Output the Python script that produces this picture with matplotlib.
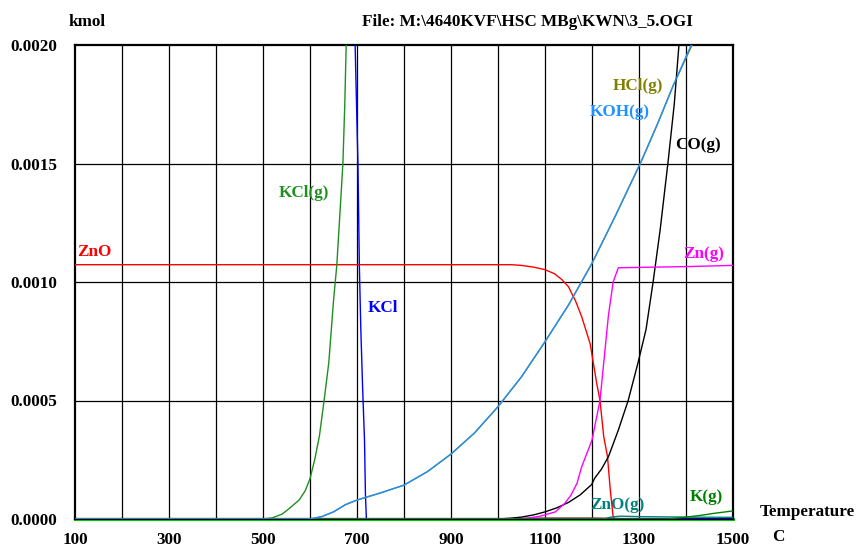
import matplotlib
matplotlib.use("Agg")
import matplotlib.pyplot as plt

plt.rcParams['font.family'] = ['Liberation Serif', 'DejaVu Serif']
plt.rcParams['font.weight'] = 'bold'

# ---- data (temperature in C, amount in kmol) ----
zno_T = [100, 1029, 1050, 1075, 1100, 1120, 1136, 1150, 1165, 1178, 1196, 1210, 1217, 1225, 1233, 1239, 1245, 1248]
zno_y = [0.001073, 0.001073, 0.00107, 0.001063, 0.001052, 0.001035, 0.00101, 0.00098, 0.00092, 0.000854, 0.00074, 0.000573, 0.0005, 0.000347, 0.000263, 0.00012, 0.00001, 0.0]

kclg_T = [100, 500, 520, 540, 552, 565, 577, 590, 600, 610, 620, 630, 640, 645, 650, 657, 664, 670, 674, 677]
kclg_y = [0.0, 0.0, 0.000005, 0.00002, 0.000038, 0.00006, 0.00008, 0.00012, 0.00017, 0.00025, 0.00035, 0.0005, 0.00066, 0.00079, 0.00092, 0.00107, 0.0013, 0.0015, 0.00175, 0.002]

kcl_T = [696, 699, 702, 705, 708, 712, 716, 718, 720, 1500]
kcl_y = [0.002, 0.00175, 0.0015, 0.00107, 0.00081, 0.00055, 0.00033, 0.0001, 0.0, 0.0]

koh_T = [100, 600, 625, 650, 675, 700, 750, 800, 850, 900, 950, 1000, 1050, 1100, 1150, 1200, 1250, 1305, 1340, 1373, 1411]
koh_y = [0.0, 0.0, 0.00001, 0.00003, 0.00006, 0.00008, 0.00011, 0.000143, 0.0002, 0.000274, 0.000363, 0.000474, 0.0006, 0.000748, 0.000903, 0.001079, 0.00128, 0.00151, 0.00167, 0.00183, 0.002]

hcl_T = [100, 600, 625, 650, 675, 700, 750, 800, 850, 900, 950, 1000, 1050, 1100, 1150, 1200, 1250, 1305, 1340, 1373, 1413]
hcl_y = [0.0, 0.0, 0.00001, 0.00003, 0.00006, 0.00008, 0.00011, 0.000143, 0.0002, 0.000274, 0.000363, 0.000474, 0.0006, 0.000748, 0.000903, 0.001079, 0.00128, 0.00151, 0.00167, 0.00183, 0.002]

co_T = [100, 1000, 1025, 1050, 1075, 1100, 1125, 1150, 1175, 1199, 1206, 1220, 1235, 1256, 1277, 1298, 1315, 1330, 1345, 1362, 1375, 1385]
co_y = [0.0, 0.0, 0.000003, 0.000008, 0.000017, 0.00003, 0.000047, 0.00007, 0.000102, 0.000145, 0.000173, 0.00021, 0.000263, 0.000375, 0.0005, 0.00066, 0.0008, 0.001, 0.00122, 0.00151, 0.00175, 0.002]

zng_T = [100, 1040, 1065, 1090, 1122, 1142, 1155, 1168, 1178, 1200, 1217, 1226, 1235, 1245, 1256, 1400, 1500]
zng_y = [0.0, 0.0, 0.000004, 0.000012, 0.00003, 0.000066, 0.0001, 0.00015, 0.00022, 0.000333, 0.0005, 0.00068, 0.00086, 0.001, 0.00106, 0.001065, 0.00107]

znog_T = [100, 1225, 1240, 1260, 1300, 1400, 1500]
znog_y = [0.0, 0.0, 0.000008, 0.000012, 0.00001, 0.000008, 0.000007]

kg_T = [100, 1360, 1400, 1430, 1460, 1500]
kg_y = [0.0, 0.0, 0.000008, 0.000015, 0.000024, 0.000034]

minor_T = [100, 1000, 1100, 1200, 1250, 1300]
minor_y = [0.0, 0.0, 0.000004, 0.000004, 0.000002, 0.0]

base_T = [100, 1500]
base_y = [0.0, 0.0]

x_ticks = [100, 300, 500, 700, 900, 1100, 1300, 1500]
y_ticks = [0.0, 0.0005, 0.0010, 0.0015, 0.0020]
y_labels = ["0.0000", "0.0005", "0.0010", "0.0015", "0.0020"]

fig = plt.figure(figsize=(8.6, 5.5), dpi=100)
ax = fig.add_axes([75/860, 31/550, 658/860, 474/550])

ax.set_xlim(100, 1500)
ax.set_ylim(0, 0.002)

for xv in range(200, 1500, 100):
    ax.axvline(xv, color='black', lw=0.9, zorder=1)
for yv in [0.0005, 0.0010, 0.0015]:
    ax.axhline(yv, color='black', lw=0.9, zorder=1)

ax.plot(base_T, base_y, color='#00dd00', lw=2.2, zorder=2, clip_on=False)
ax.plot(minor_T, minor_y, color='#8b3a3a', lw=1.0, zorder=3)
ax.plot(zno_T, zno_y, color='#ff0000', lw=1.0, zorder=4)
ax.plot(kclg_T, kclg_y, color='#1f8f1f', lw=1.0, zorder=4)
ax.plot(kcl_T, kcl_y, color='#0000ff', lw=1.0, zorder=4)
ax.plot(hcl_T, hcl_y, color='#808000', lw=1.0, zorder=4)
ax.plot(koh_T, koh_y, color='#1e90ff', lw=1.0, zorder=5)
ax.plot(co_T, co_y, color='black', lw=1.0, zorder=4)
ax.plot(zng_T, zng_y, color='#ff00ff', lw=1.0, zorder=4)
ax.plot(znog_T, znog_y, color='#008080', lw=1.0, zorder=4)
ax.plot(kg_T, kg_y, color='#008000', lw=1.0, zorder=4)

for s in ax.spines.values():
    s.set_linewidth(1.6)
    s.set_color('black')

fs = 12.3
ax.set_xticks(x_ticks)
ax.set_xticklabels([str(v) for v in x_ticks])
ax.set_yticks(y_ticks)
ax.set_yticklabels(y_labels)
ax.tick_params(axis='y', length=0, labelsize=fs, pad=13)
ax.tick_params(axis='x', length=0, labelsize=fs, pad=9)
for lab in ax.get_xticklabels() + ax.get_yticklabels():
    lab.set_fontweight('bold')

def lbl(x, y, s, c, ha='left'):
    ax.text(x, y, s, color=c, fontsize=fs, fontweight='bold', ha=ha, va='center')

lbl(104, 0.001128, "ZnO", '#ff0000')
lbl(534, 0.001376, "KCl(g)", '#1f8f1f')
lbl(723, 0.00089, "KCl", '#0000ff')
lbl(1243, 0.001827, "HCl(g)", '#808000')
lbl(1196, 0.001717, "KOH(g)", '#1e90ff')
lbl(1377, 0.001578, "CO(g)", 'black')
lbl(1394, 0.001118, "Zn(g)", '#ff00ff')
lbl(1196, 0.000059, "ZnO(g)", '#008080')
lbl(1408, 0.000093, "K(g)", '#008000')

fig.text(69/860, 1 - 22/550, "kmol", fontsize=fs, fontweight='bold', ha='left', va='center')
fig.text(362/860, 1 - 22/550, r"File: M:\4640KVF\HSC MBg\KWN\3_5.OGI", fontsize=fs,
         fontweight='bold', ha='left', va='center')
fig.text(760/860, 1 - 512/550, "Temperature", fontsize=fs, fontweight='bold', ha='left', va='center')
fig.text(772/860, 1 - 537/550, "C", fontsize=fs, fontweight='bold', ha='left', va='center')

fig.savefig("out.png", dpi=100)
